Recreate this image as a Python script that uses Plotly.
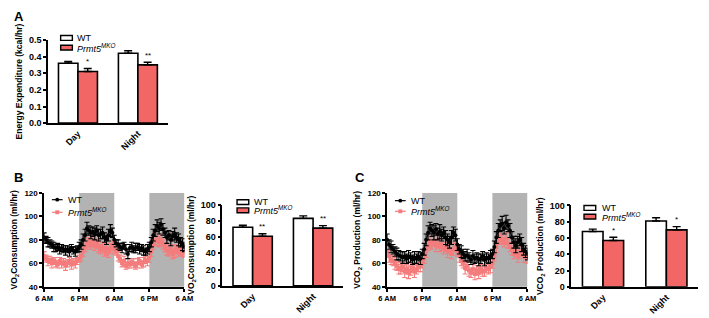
import plotly.graph_objects as go

W, H = 709, 318
FONT = "Liberation Sans, Arial, sans-serif"
RED = "#F26666"
PINK = "#F47C7C"
GRAY = "#B3B3B3"

# ---------------- data ----------------
bar_categories = ["Day", "Night"]
groups = ["WT", "Prmt5MKO"]

ee_wt = [0.36, 0.42]
ee_wt_err = [0.010, 0.015]
ee_ko = [0.31, 0.35]
ee_ko_err = [0.018, 0.016]
ee_sig = ["*", "**"]

vo2_wt = [72, 83]
vo2_wt_err = [2.5, 3]
vo2_ko = [61, 71]
vo2_ko_err = [3, 3]
vo2_sig = ["**", "**"]

vco2_wt = [68, 81]
vco2_wt_err = [3, 4]
vco2_ko = [57, 70]
vco2_ko_err = [4, 4]
vco2_sig = ["*", "*"]

# time course: hours from 6 AM, 40-min bins over 48 h
hours = [i * 2 / 3 for i in range(73)]
time_tickvals = [0, 12, 24, 36, 48]
time_ticktext = ["6 AM", "6 PM", "6 AM", "6 PM", "6 AM"]
night_periods = [(12, 24), (36, 48)]

vo2_wt_t = [82, 80, 78, 77, 76, 74, 73, 74, 72, 73, 72, 71, 72, 70, 73, 71, 70, 72,
            74, 76, 80, 84, 90, 88, 86, 87, 85, 88, 84, 85, 86, 82, 80, 84, 88, 86,
            80, 77, 76, 74, 73, 75, 72, 68, 73, 74, 72, 73, 74, 72, 73, 71, 70, 72,
            74, 78, 84, 88, 92, 90, 93, 89, 86, 82, 84, 80, 83, 85, 82, 80, 78, 76, 74]
vo2_wt_t_err = [4, 3, 4, 3, 3, 4, 3, 3, 4, 3, 3, 4, 3, 4, 3, 3, 4, 3,
                4, 4, 5, 5, 5, 4, 5, 4, 5, 4, 5, 4, 5, 4, 4, 5, 5, 4,
                4, 3, 4, 3, 4, 3, 4, 4, 3, 4, 3, 4, 3, 4, 3, 4, 3, 4,
                4, 4, 5, 5, 5, 5, 5, 5, 4, 5, 4, 5, 4, 5, 4, 5, 4, 5, 4]
vo2_ko_t = [66, 64, 62, 63, 60, 62, 61, 59, 62, 60, 61, 58, 60, 62, 59, 61, 60, 62,
            64, 66, 70, 74, 77, 78, 76, 79, 75, 77, 74, 72, 74, 70, 72, 69, 73, 75,
            72, 70, 66, 64, 60, 62, 58, 60, 59, 61, 60, 58, 60, 62, 59, 61, 63, 62,
            65, 70, 76, 80, 79, 78, 80, 76, 74, 72, 70, 72, 68, 70, 72, 70, 72, 70, 69]
vo2_ko_t_err = [4, 3, 4, 3, 4, 3, 4, 3, 3, 4, 3, 4, 3, 3, 4, 3, 4, 3,
                3, 4, 4, 4, 5, 4, 4, 5, 4, 4, 5, 4, 4, 4, 5, 4, 4, 4,
                4, 3, 4, 3, 3, 4, 3, 4, 3, 3, 4, 3, 4, 3, 3, 4, 3, 4,
                4, 4, 4, 5, 4, 4, 5, 4, 4, 5, 4, 4, 4, 5, 4, 4, 5, 4, 4]

vco2_wt_t = [80, 76, 74, 72, 70, 68, 67, 66, 65, 66, 64, 66, 65, 63, 65, 64, 66, 64,
             68, 72, 80, 86, 90, 88, 86, 89, 85, 87, 84, 86, 82, 80, 78, 82, 86, 84,
             76, 72, 70, 68, 66, 67, 65, 63, 66, 64, 65, 63, 64, 66, 63, 65, 64, 66,
             68, 74, 82, 88, 92, 94, 90, 95, 92, 88, 82, 78, 75, 78, 80, 76, 72, 70, 68]
vco2_wt_t_err = [5, 4, 5, 4, 4, 5, 4, 4, 5, 4, 4, 5, 4, 4, 5, 4, 4, 5,
                 4, 5, 5, 6, 5, 5, 6, 5, 5, 6, 5, 5, 6, 5, 5, 6, 5, 5,
                 5, 4, 5, 4, 4, 5, 4, 4, 5, 4, 4, 5, 4, 4, 5, 4, 4, 5,
                 4, 5, 5, 6, 5, 6, 5, 6, 5, 6, 5, 5, 6, 5, 5, 6, 5, 5, 5]
vco2_ko_t = [70, 66, 63, 62, 60, 58, 56, 55, 57, 53, 55, 52, 54, 56, 53, 55, 57, 58,
             60, 64, 70, 75, 78, 76, 79, 75, 77, 74, 76, 72, 74, 70, 72, 68, 72, 74,
             70, 66, 62, 60, 56, 58, 54, 52, 55, 51, 54, 52, 55, 53, 54, 56, 55, 57,
             60, 66, 74, 80, 82, 80, 78, 81, 77, 74, 72, 68, 70, 66, 68, 70, 66, 65, 64]
vco2_ko_t_err = [4, 5, 4, 4, 5, 4, 5, 4, 4, 5, 4, 5, 4, 4, 5, 4, 4, 5,
                 4, 4, 5, 4, 5, 4, 4, 5, 4, 4, 5, 4, 4, 5, 4, 4, 5, 4,
                 4, 5, 4, 4, 5, 4, 5, 4, 4, 5, 4, 5, 4, 4, 5, 4, 4, 5,
                 4, 4, 5, 4, 5, 4, 4, 5, 4, 4, 5, 4, 4, 5, 4, 4, 5, 4, 4]

# ---------------- helpers ----------------
def px(x):
    return x / W

def py(y):
    return 1 - y / H

fig = go.Figure()

BARGAP = 0.35
BAR_W = (1 - BARGAP) / 2


def add_bars(xa, ya, wt, wt_err, ko, ko_err, sig, sig_pad):
    fig.add_trace(go.Bar(
        x=bar_categories, y=wt, xaxis=xa, yaxis=ya, name="WT",
        marker=dict(color="white", line=dict(color="black", width=1.6)),
        error_y=dict(type="data", array=wt_err, symmetric=False, arrayminus=[0, 0],
                     color="black", thickness=1.4, width=4),
        showlegend=False, offsetgroup="wt"))
    fig.add_trace(go.Bar(
        x=bar_categories, y=ko, xaxis=xa, yaxis=ya, name="Prmt5MKO",
        marker=dict(color=RED, line=dict(color="black", width=1.6)),
        error_y=dict(type="data", array=ko_err, symmetric=False, arrayminus=[0, 0],
                     color="black", thickness=1.4, width=4),
        showlegend=False, offsetgroup="ko"))
    for i, s in enumerate(sig):
        fig.add_annotation(x=i + BAR_W / 2, y=ko[i] + ko_err[i] + sig_pad,
                           xref=xa, yref=ya, text=s, showarrow=False,
                           font=dict(family=FONT, size=8, color="black"),
                           yanchor="bottom")


def add_lines(xa, ya, wt, wt_err, ko, ko_err):
    fig.add_trace(go.Scatter(
        x=hours, y=ko, xaxis=xa, yaxis=ya, mode="lines+markers",
        line=dict(color=PINK, width=1),
        marker=dict(color=PINK, symbol="square", size=4),
        error_y=dict(type="data", array=ko_err, color=PINK, thickness=1.1, width=2.5),
        showlegend=False))
    fig.add_trace(go.Scatter(
        x=hours, y=wt, xaxis=xa, yaxis=ya, mode="lines+markers",
        line=dict(color="black", width=1),
        marker=dict(color="black", symbol="circle", size=4),
        error_y=dict(type="data", array=wt_err, color="black", thickness=1.1, width=2.5),
        showlegend=False))
    for a, b in night_periods:
        fig.add_shape(type="rect", xref=xa, yref=ya + " domain", x0=a, x1=b, y0=0, y1=1,
                      fillcolor=GRAY, line=dict(width=0), layer="below")


add_bars("x", "y", ee_wt, ee_wt_err, ee_ko, ee_ko_err, ee_sig, 0.003)
add_lines("x2", "y2", vo2_wt_t, vo2_wt_t_err, vo2_ko_t, vo2_ko_t_err)
add_bars("x3", "y3", vo2_wt, vo2_wt_err, vo2_ko, vo2_ko_err, vo2_sig, 0.5)
add_lines("x4", "y4", vco2_wt_t, vco2_wt_t_err, vco2_ko_t, vco2_ko_t_err)
add_bars("x5", "y5", vco2_wt, vco2_wt_err, vco2_ko, vco2_ko_err, vco2_sig, 0.5)

tickfont = dict(family=FONT, size=9, color="black", weight="bold")
titlefont = dict(family=FONT, size=8.5, color="black", weight="bold")

axis_common = dict(showline=True, linecolor="black", linewidth=1.5, ticks="outside",
                   ticklen=3, tickwidth=1.5, tickcolor="black", showgrid=False,
                   zeroline=False, tickfont=tickfont, fixedrange=True)

def bar_xaxis(dom, anchor):
    return dict(axis_common, domain=dom, anchor=anchor, range=[-0.5, 1.5],
                tickangle=-45, ticks="", type="category")

def line_xaxis(dom, anchor):
    return dict(axis_common, domain=dom, anchor=anchor, range=[0, 48],
                tickvals=time_tickvals, ticktext=time_ticktext, tickangle=0,
                tickfont=dict(family=FONT, size=7.5, color="black", weight="bold"))

fig.update_layout(
    width=W, height=H, autosize=False, margin=dict(l=0, r=0, t=0, b=0),
    paper_bgcolor="white", plot_bgcolor="white",
    barmode="group", bargap=BARGAP, bargroupgap=0,
    xaxis=bar_xaxis([px(40), px(163)], "y"),
    yaxis=dict(axis_common, domain=[py(122), py(36)], anchor="x", range=[0, 0.5],
               tickvals=[0, 0.1, 0.2, 0.3, 0.4, 0.5], tickformat=".1f",
               title=dict(text="Energy Expenditure (kcal/hr)", font=titlefont, standoff=5)),
    xaxis2=line_xaxis([px(36), px(180)], "y2"),
    yaxis2=dict(axis_common, domain=[py(291), py(194)], anchor="x2", range=[40, 120],
                tickvals=[40, 60, 80, 100, 120],
                tickfont=dict(family=FONT, size=8, color="black", weight="bold"),
                title=dict(text="VO<sub>2</sub>Consumption (ml/hr)", font=titlefont, standoff=5)),
    xaxis3=bar_xaxis([px(219), px(343)], "y3"),
    yaxis3=dict(axis_common, domain=[py(290), py(206)], anchor="x3", range=[0, 100],
                tickvals=[0, 20, 40, 60, 80, 100],
                title=dict(text="VO<sub>2</sub>Consumption (ml/hr)", font=titlefont, standoff=5)),
    xaxis4=line_xaxis([px(388), px(532)], "y4"),
    yaxis4=dict(axis_common, domain=[py(291), py(194)], anchor="x4", range=[40, 120],
                tickvals=[40, 60, 80, 100, 120],
                tickfont=dict(family=FONT, size=8, color="black", weight="bold"),
                title=dict(text="VCO<sub>2</sub> Production (ml/hr)", font=titlefont, standoff=5)),
    xaxis5=bar_xaxis([px(577), px(707)], "y5"),
    yaxis5=dict(axis_common, domain=[py(291), py(207)], anchor="x5", range=[0, 100],
                tickvals=[0, 20, 40, 60, 80, 100],
                title=dict(text="VCO<sub>2</sub> Production (ml/hr)", font=titlefont, standoff=5)),
)

# panel letters
for letter, x, y in [("A", 3, 12), ("B", 3, 178), ("C", 353, 178)]:
    fig.add_annotation(text=letter, x=px(x), y=py(y), xref="paper", yref="paper",
                       xanchor="left", yanchor="middle", showarrow=False,
                       font=dict(family=FONT, size=13, color="black", weight="bold"))

KO_LABEL = "<i>Prmt5<sup>MKO</sup></i>"
legfont = dict(family=FONT, size=9, color="black")

def bar_legend(x0, y_wt, y_ko, tx):
    for yc, fill, lab in [(y_wt, "white", "WT"), (y_ko, RED, KO_LABEL)]:
        fig.add_shape(type="rect", xref="paper", yref="paper",
                      x0=px(x0), x1=px(x0 + 12), y0=py(yc + 2.5), y1=py(yc - 2.5),
                      fillcolor=fill, line=dict(color="black", width=1.4))
        fig.add_annotation(text=lab, x=px(tx), y=py(yc), xref="paper", yref="paper",
                           xanchor="left", yanchor="middle", showarrow=False, font=legfont)

def line_legend(x0, y_wt, y_ko, tx):
    for yc, col, sym, lab in [(y_wt, "black", "circle", "WT"), (y_ko, PINK, "square", KO_LABEL)]:
        fig.add_shape(type="line", xref="paper", yref="paper",
                      x0=px(x0), x1=px(x0 + 11), y0=py(yc), y1=py(yc),
                      line=dict(color=col, width=1.2))
        xc = x0 + 5.5
        if sym == "circle":
            fig.add_shape(type="circle", xref="paper", yref="paper",
                          x0=px(xc - 2), x1=px(xc + 2), y0=py(yc + 2), y1=py(yc - 2),
                          fillcolor=col, line=dict(color=col, width=0))
        else:
            fig.add_shape(type="rect", xref="paper", yref="paper",
                          x0=px(xc - 2), x1=px(xc + 2), y0=py(yc + 2), y1=py(yc - 2),
                          fillcolor=col, line=dict(color=col, width=0))
        fig.add_annotation(text=lab, x=px(tx), y=py(yc), xref="paper", yref="paper",
                           xanchor="left", yanchor="middle", showarrow=False, font=legfont)

bar_legend(53, 34, 44, 68)
line_legend(44, 201, 214, 58)
bar_legend(234, 203.5, 212, 249)
line_legend(396, 202, 213, 410)
bar_legend(590, 209.5, 218.5, 606)

fig.write_html("out.html", config={"displayModeBar": False},
               post_script="document.body.style.margin='0';document.body.style.overflow='hidden';")
